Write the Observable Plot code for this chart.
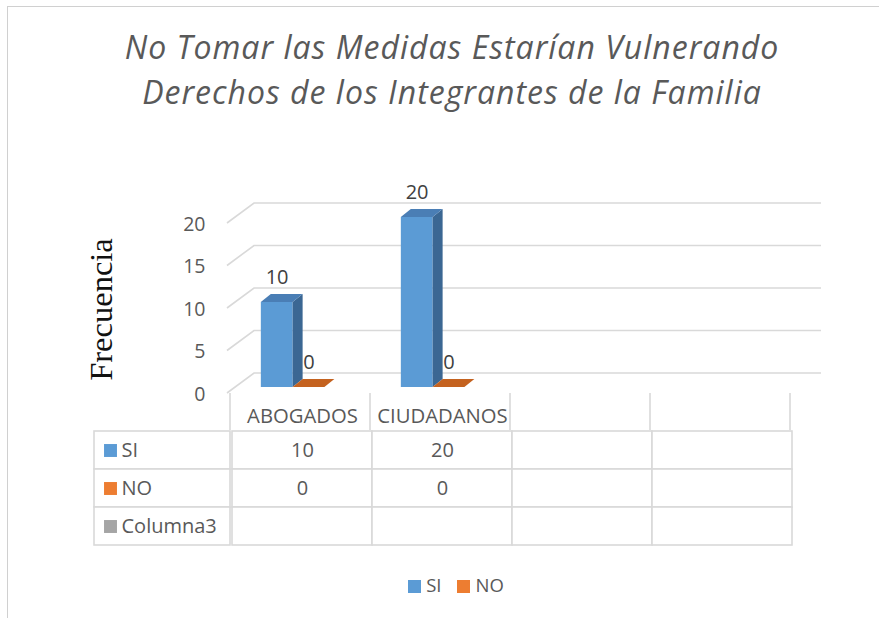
<!DOCTYPE html>
<html>
<head>
<meta charset="utf-8">
<script src="https://cdn.jsdelivr.net/npm/d3@7"></script>
<script src="https://cdn.jsdelivr.net/npm/@observablehq/plot@0.6"></script>
<style>
  html, body { margin: 0; padding: 0; background: #fff; }
  #wrap { position: relative; width: 879px; height: 618px; overflow: hidden; font-family: "Open Sans", sans-serif; }
  #frame { position: absolute; left: 7px; top: 6px; width: 900px; height: 640px; border-left: 1px solid #d0d0d0; border-top: 1px solid #d0d0d0; }
  #title { position: absolute; left: 7px; width: 890px; top: 24px; text-align: center; font-style: italic; font-size: 32px; letter-spacing: 1px; line-height: 45px; color: #595959; }
  #chart { position: absolute; left: 0; top: 150px; }
  #table { position: absolute; left: 0; top: 430px; }
  #legend { position: absolute; left: 0; width: 912px; top: 572px; text-align: center; font-size: 18.5px; color: #595959; }
  #legend span.sw { display: inline-block; width: 13px; height: 13px; margin-right: 5px; vertical-align: -1px; }
  #legend span.item { margin: 0 8px; }
  svg { overflow: visible; }
</style>
</head>
<body>
<div id="wrap">
  <div id="frame"></div>
  <div id="title">No Tomar las Medidas Estarían Vulnerando<br>Derechos de los Integrantes de la Familia</div>
  <div id="chart"></div>
  <div id="table"></div>
  <div id="legend"></div>
</div>
<script>
// ---- data ----
const categories = ["ABOGADOS", "CIUDADANOS"];
const tableColumnCount = 4;           // Excel data table shows 4 columns (2 empty)
const seriesNames = ["SI", "NO"];
const siValues = [10, 20];
const noValues = [0, 0];
const tableRows = ["SI", "NO", "Columna3"];
const yTicks = [0, 5, 10, 15, 20];
const yLabel = "Frecuencia";

// ---- styling ----
const colors = {SI: "#5B9BD5", NO: "#ED7D31", Columna3: "#A5A5A5"};
const topColors = {SI: "#4A7EB5", NO: "#C4621F"};
const sideColors = {SI: "#3B6793", NO: "#A9521A"};
const gridColor = "#d9d9d9";
const textColor = "#595959";
const fontFamily = "Open Sans, sans-serif";

const seriesValues = {SI: siValues, NO: noValues};
const columns = d3.range(tableColumnCount);
const bars = categories.flatMap((c, i) => seriesNames.map((s, k) => ({col: i, series: s, k, value: seriesValues[s][i]})));

const W = 879;
const marginLeft = 230, marginRight = 86;
const barStart = 0.206, barWidth = 0.227;   // fractions of a column
const barDepth = [10, -8];
const floorDepth = [27, -20];
const bandPx = (W - marginLeft - marginRight) / tableColumnCount;

// grid lines of the 3D back wall with the left-side diagonal
function grid3d(index, scales) {
  const {x, y} = scales;
  const [r0, r1] = x.range();
  const g = d3.create("svg:g").attr("fill", "none").attr("stroke", gridColor).attr("stroke-width", 1.6);
  for (const v of yTicks) {
    const fy = y(v) + 6, fx = r0 - 3;
    g.append("path").attr("d", `M${fx},${fy}L${fx + floorDepth[0]},${fy + floorDepth[1]}H${r1 + 28}`);
  }
  // header-row column separators
  const bw = x.bandwidth();
  for (let i = 0; i <= tableColumnCount; i++) {
    const cx = r0 + i * bw;
    g.append("line").attr("x1", cx).attr("x2", cx).attr("y1", y(0) + 6).attr("y2", 280);
  }
  return g.node();
}

function bars3d(index, scales) {
  const {x, y} = scales;
  const bw = x.bandwidth();
  const g = d3.create("svg:g");
  const [ddx, ddy] = barDepth;
  for (const d of bars) {
    const x0 = x(d.col) + (barStart + d.k * barWidth) * bw;
    const x1 = x0 + barWidth * bw;
    const y0 = y(0), y1 = y(d.value);
    if (y0 - y1 > 0.5) {
      g.append("path").attr("d", `M${x0},${y0}H${x1}V${y1}H${x0}Z`).attr("fill", colors[d.series]);
      g.append("path").attr("d", `M${x1},${y0}L${x1 + ddx},${y0 + ddy}V${y1 + ddy}L${x1},${y1}Z`).attr("fill", sideColors[d.series]);
    }
    g.append("path").attr("d", `M${x0},${y1}L${x0 + ddx},${y1 + ddy}H${x1 + ddx}L${x1},${y1}Z`).attr("fill", topColors[d.series]);
  }
  return g.node();
}

const chart = Plot.plot({
  width: W,
  height: 280,
  marginLeft, marginRight,
  marginTop: 67,
  marginBottom: 43,
  style: {fontFamily, background: "transparent", overflow: "visible"},
  x: {type: "band", domain: columns, padding: 0, axis: null},
  y: {domain: [0, 20], axis: null},
  marks: [
    grid3d,
    bars3d,
    // y tick labels
    Plot.text(yTicks, {y: d => d, text: d => String(d), frameAnchor: "left", textAnchor: "end", dx: -25, dy: 7, fontSize: 19.5, fill: textColor}),
    // y axis title
    Plot.text([yLabel], {frameAnchor: "left", textAnchor: "middle", text: d => d, rotate: -90, dx: -129, dy: 7, fontSize: 32.5, fontFamily: "Liberation Serif, Times New Roman, serif", fill: "#111"}),
    // value labels, centred on each bar's front face
    ...seriesNames.map((s, k) => Plot.text(bars.filter(d => d.series === s), {
      x: "col", y: "value", text: d => String(d.value),
      dx: (barStart + (k + 0.5) * barWidth - 0.5) * bandPx, dy: -25,
      fontSize: 20, fill: "#404040"
    })),
    // category labels (header row of the data table)
    Plot.text(columns, {x: d => d, text: i => categories[i] ?? "", frameAnchor: "bottom", dy: 29, lineAnchor: "middle", fontSize: 20.3, fill: textColor})
  ]
});
document.getElementById("chart").appendChild(chart);

// ---- data table ----
const tableCells = tableRows.flatMap(r => columns.map(c => ({row: r, col: c,
  value: seriesValues[r] && c < categories.length ? String(seriesValues[r][c]) : ""})));

function rowHeaders(index, scales) {
  const {x, y} = scales;
  const [r0] = x.range();
  const g = d3.create("svg:g").attr("fill", "#fff").attr("stroke", gridColor).attr("stroke-width", 1.6);
  for (const r of tableRows) {
    g.append("rect").attr("x", r0 - 136).attr("width", 136).attr("y", y(r)).attr("height", y.bandwidth());
  }
  return g.node();
}

const table = Plot.plot({
  width: W,
  height: 117,
  marginLeft, marginRight,
  marginTop: 0,
  marginBottom: 2,
  style: {fontFamily, background: "transparent", overflow: "visible"},
  x: {type: "band", domain: columns, padding: 0, axis: null},
  y: {type: "band", domain: tableRows, padding: 0, axis: null},
  marks: [
    Plot.cell(tableCells, {x: "col", y: "row", fill: "#fff", stroke: gridColor, strokeWidth: 1.6, inset: 0}),
    rowHeaders,
    Plot.dot(tableRows, {y: d => d, frameAnchor: "left", dx: -120, symbol: "square", r: 7.3, fill: d => colors[d], stroke: null}),
    Plot.text(tableRows, {y: d => d, text: d => d, frameAnchor: "left", dx: -109, textAnchor: "start", fontSize: 20, fill: textColor}),
    Plot.text(tableCells, {x: "col", y: "row", text: "value", fontSize: 20, fill: textColor})
  ]
});
document.getElementById("table").appendChild(table);

// ---- bottom legend ----
document.getElementById("legend").innerHTML = seriesNames
  .map(s => `<span class="item"><span class="sw" style="background:${colors[s]}"></span>${s}</span>`).join("");
</script>
</body>
</html>
